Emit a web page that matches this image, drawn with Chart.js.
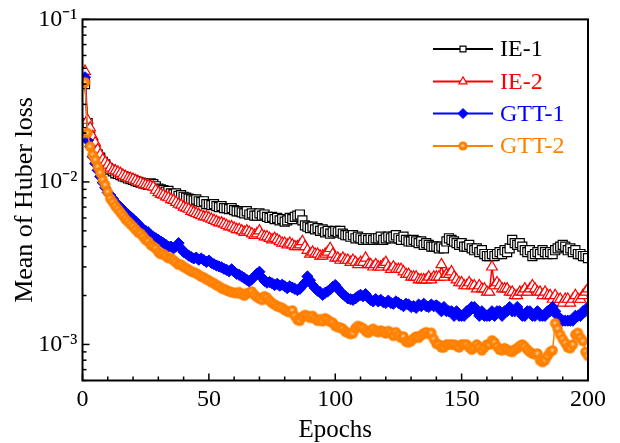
<!DOCTYPE html>
<html><head><meta charset="utf-8">
<script src="https://cdn.jsdelivr.net/npm/chart.js@4.4.1/dist/chart.umd.min.js"></script>
<style>html,body{margin:0;padding:0;background:#fff;}canvas{display:block;}</style>
</head><body>
<canvas id="c" width="620" height="443"></canvas>
<script>
const epochs = Array.from({length: 200}, (_, i) => i + 1);

const ie1 = [
0.0400,0.0230,0.0190,0.0172,0.0158,0.0148,0.0141,0.0133,0.0128,0.0122,
0.0119,0.0116,0.0113,0.0112,0.0110,0.0108,0.0107,0.0105,0.0104,0.0103,
0.0101,0.0100,0.0099,0.0098,0.0097,0.0096,0.0098,0.0097,0.0094,0.0091,
0.0090,0.0089,0.0087,0.0088,0.0085,0.0084,0.0085,0.0082,0.0083,0.0081,
0.0080,0.0079,0.0078,0.0077,0.0078,0.0076,0.0075,0.0076,0.0073,0.0073,
0.0072,0.0073,0.0071,0.0070,0.0071,0.0069,0.0069,0.0068,0.0069,0.0067,
0.0066,0.0066,0.0065,0.0064,0.0066,0.0063,0.0064,0.0062,0.0062,0.0064,
0.0062,0.0063,0.0061,0.0060,0.0061,0.0059,0.0060,0.0058,0.0059,0.0057,
0.0058,0.0060,0.0059,0.0061,0.0062,0.0063,0.0058,0.0054,0.0053,0.0052,
0.0053,0.0051,0.0052,0.0050,0.0051,0.0049,0.0050,0.0048,0.0049,0.0050,
0.0049,0.0050,0.0048,0.0047,0.0047,0.0046,0.0047,0.0045,0.0046,0.0045,
0.0044,0.0045,0.0044,0.0045,0.0044,0.0045,0.0045,0.0046,0.0044,0.0045,
0.0046,0.0045,0.0046,0.0047,0.0045,0.0044,0.0046,0.0044,0.0043,0.0043,
0.0044,0.0043,0.0042,0.0043,0.0041,0.0042,0.0041,0.0040,0.0040,0.0040,
0.0039,0.0040,0.0039,0.0043,0.0045,0.0044,0.0043,0.0042,0.0041,0.0042,
0.0040,0.0040,0.0041,0.0039,0.0038,0.0039,0.0037,0.0038,0.0036,0.0035,
0.0035,0.0036,0.0035,0.0036,0.0037,0.0036,0.0038,0.0037,0.0039,0.0044,
0.0042,0.0041,0.0042,0.0040,0.0038,0.0037,0.0038,0.0035,0.0036,0.0037,
0.0036,0.0038,0.0037,0.0036,0.0037,0.0036,0.0038,0.0039,0.0040,0.0041,
0.0040,0.0038,0.0039,0.0037,0.0038,0.0036,0.0036,0.0035,0.0035,0.0034];

const ie2 = [
0.0480,0.0240,0.0215,0.0190,0.0174,0.0158,0.0147,0.0137,0.0132,0.0127,
0.0122,0.0118,0.0117,0.0115,0.0113,0.0110,0.0108,0.0106,0.0105,0.0104,
0.0102,0.0100,0.0099,0.0097,0.0096,0.0095,0.0094,0.0093,0.0089,0.0086,
0.0084,0.0083,0.0081,0.0080,0.0078,0.0077,0.0075,0.0073,0.0072,0.0070,
0.0069,0.0068,0.0066,0.0065,0.0064,0.0063,0.0062,0.0061,0.0061,0.0060,
0.0059,0.0058,0.0057,0.0056,0.0056,0.0055,0.0054,0.0053,0.0053,0.0052,
0.0051,0.0051,0.0050,0.0049,0.0050,0.0049,0.0048,0.0047,0.0048,0.0050,
0.0047,0.0046,0.0046,0.0045,0.0044,0.0045,0.0044,0.0043,0.0042,0.0042,
0.0041,0.0042,0.0041,0.0040,0.0040,0.0041,0.0043,0.0040,0.0038,0.0036,
0.0037,0.0036,0.0036,0.0035,0.0035,0.0036,0.0037,0.0039,0.0036,0.0034,
0.0034,0.0033,0.0034,0.0033,0.0033,0.0032,0.0033,0.0032,0.0031,0.0032,
0.0032,0.0034,0.0031,0.0031,0.0030,0.0031,0.0030,0.0030,0.0031,0.0032,
0.0030,0.0029,0.0030,0.0029,0.0029,0.0029,0.0028,0.0027,0.0027,0.0026,
0.0026,0.0026,0.0025,0.0025,0.0025,0.0025,0.0026,0.0025,0.0026,0.0026,
0.0026,0.0031,0.0026,0.0027,0.0027,0.0028,0.0026,0.0025,0.0024,0.0024,
0.0023,0.0023,0.0024,0.0023,0.0023,0.0022,0.0023,0.0022,0.0022,0.0021,
0.0021,0.0030,0.0023,0.0024,0.0023,0.0022,0.0022,0.0022,0.0021,0.0021,
0.0020,0.0020,0.0021,0.0021,0.0022,0.0021,0.0022,0.0023,0.0022,0.0021,
0.0021,0.0020,0.0021,0.0020,0.0020,0.0019,0.0020,0.0019,0.0019,0.0018,
0.0019,0.0019,0.0018,0.0019,0.0020,0.0019,0.0019,0.0020,0.0021,0.0022];

const gtt1 = [
0.0440,0.0180,0.0165,0.0143,0.0130,0.0118,0.0108,0.0099,0.0092,0.0086,
0.0083,0.0079,0.0075,0.0072,0.0070,0.0067,0.0065,0.0063,0.0061,0.0059,
0.0057,0.0055,0.0053,0.0051,0.0050,0.0049,0.0047,0.0046,0.0045,0.0044,
0.0043,0.0042,0.0041,0.0040,0.0040,0.0039,0.0040,0.0042,0.0039,0.0037,
0.00362,0.00352,0.00345,0.00338,0.00342,0.00332,0.00338,0.00330,0.00322,0.00328,
0.00318,0.00312,0.00306,0.00302,0.00298,0.00292,0.00288,0.00282,0.00290,0.00280,
0.00272,0.00268,0.00262,0.00256,0.00250,0.00244,0.00252,0.00262,0.00272,0.00280,
0.00258,0.00246,0.00240,0.00242,0.00238,0.00232,0.00236,0.00230,0.00233,0.00228,
0.00222,0.00228,0.00224,0.00220,0.00216,0.00220,0.00230,0.00240,0.00262,0.00248,
0.00232,0.00222,0.00214,0.00210,0.00202,0.00208,0.00212,0.00218,0.00226,0.00232,
0.00222,0.00212,0.00204,0.00198,0.00192,0.00190,0.00188,0.00192,0.00198,0.00202,
0.00198,0.00204,0.00194,0.00188,0.00184,0.00190,0.00184,0.00188,0.00182,0.00180,
0.00186,0.00180,0.00178,0.00184,0.00180,0.00176,0.00172,0.00178,0.00176,0.00170,
0.00172,0.00168,0.00176,0.00172,0.00178,0.00172,0.00170,0.00176,0.00172,0.00174,
0.0017,0.0016,0.0017,0.0016,0.0016,0.0016,0.0015,0.0016,0.0015,0.0015,
0.0015,0.0016,0.0016,0.0017,0.0017,0.0016,0.0015,0.0016,0.0015,0.0015,
0.0015,0.0016,0.0015,0.0016,0.0016,0.0015,0.0016,0.0016,0.0017,0.0016,
0.0016,0.0017,0.0016,0.0015,0.0015,0.0016,0.0016,0.0015,0.0015,0.0016,
0.0015,0.0015,0.0015,0.0016,0.0016,0.0017,0.0016,0.0015,0.0014,0.0014,
0.0014,0.0014,0.0014,0.0014,0.0015,0.0015,0.0015,0.0016,0.0016,0.0017];

const gtt2 = [
0.0410,0.0200,0.0165,0.0147,0.0137,0.0124,0.0114,0.0103,0.0096,0.0087,
0.0079,0.0075,0.0071,0.0068,0.0065,0.0062,0.0059,0.0057,0.0055,0.0053,
0.0051,0.0049,0.0048,0.0046,0.0044,0.0043,0.0041,0.0040,0.0039,0.0037,
0.0036,0.0036,0.0035,0.0034,0.0034,0.0033,0.0032,0.0031,0.0031,0.0030,
0.00295,0.00288,0.00282,0.00278,0.00274,0.00268,0.00262,0.00258,0.00252,0.00248,
0.00242,0.00238,0.00232,0.00228,0.00222,0.00219,0.00216,0.00212,0.00210,0.00208,
0.00207,0.00210,0.00204,0.00200,0.00206,0.00209,0.00212,0.00202,0.00196,0.00192,
0.00188,0.00198,0.00194,0.00186,0.00180,0.00176,0.00172,0.00170,0.00168,0.00163,
0.00160,0.00158,0.00162,0.00150,0.00142,0.00140,0.00148,0.00152,0.00150,0.00146,
0.00150,0.00144,0.00140,0.00143,0.00139,0.00145,0.00142,0.00138,0.00136,0.00130,
0.00128,0.00127,0.00125,0.00120,0.00118,0.00116,0.00117,0.00126,0.00130,0.00128,
0.00126,0.00121,0.00118,0.00122,0.00125,0.00121,0.00119,0.00122,0.00120,0.00117,
0.00121,0.00118,0.00113,0.00119,0.00114,0.00110,0.00112,0.00104,0.00103,0.00105,
0.00109,0.00112,0.00110,0.00114,0.00117,0.00119,0.00116,0.00118,0.00108,0.00101,
0.0010,0.00096,0.00096,0.0010,0.0010,0.0010,0.0010,0.00098,0.00096,0.0010,
0.0010,0.0010,0.00096,0.00093,0.00096,0.0010,0.00096,0.00092,0.00096,0.0010,
0.0010,0.00106,0.00103,0.00097,0.00093,0.00092,0.00095,0.00093,0.00091,0.00090,
0.00093,0.00095,0.00098,0.00100,0.00097,0.00093,0.00090,0.00088,0.00087,0.00088,
0.00080,0.00078,0.00080,0.00085,0.00090,0.00092,0.00135,0.00125,0.00115,0.00108,
0.00102,0.00096,0.00095,0.00100,0.00115,0.00118,0.00110,0.00105,0.00090,0.00085];

const seriesNames = ['IE-1', 'IE-2', 'GTT-1', 'GTT-2'];
const seriesColors = ['#000000', '#ff0000', '#0000ff', '#ff8000'];
const xTickValues = [0, 50, 100, 150, 200];
const yTickValues = [1e-3, 1e-2, 1e-1];
const yTickLabels = ['10\u207B\u00B3', '10\u207B\u00B2', '10\u207B\u00B9'];
const xTitle = 'Epochs';
const yTitle = 'Mean of Huber loss';

const FONT = '"Liberation Serif", "Times New Roman", serif';

function makeBall(r) {
  const s = Math.ceil(r * 2 + 2), c = document.createElement('canvas');
  c.width = s; c.height = s;
  const g = c.getContext('2d');
  const m = s / 2;
  g.beginPath(); g.arc(m, m, r, 0, Math.PI * 2);
  g.fillStyle = '#ff8000'; g.fill();
  const rg = g.createRadialGradient(m - 0.3, m - 0.3, 0, m - 0.3, m - 0.3, r * 0.6);
  rg.addColorStop(0, 'rgba(255,238,215,1)');
  rg.addColorStop(1, 'rgba(255,150,40,0)');
  g.fillStyle = rg;
  g.beginPath(); g.arc(m, m, r, 0, Math.PI * 2); g.fill();
  return c;
}
const ball = makeBall(5.2);

const styles = [
  {pointStyle: 'rect', radius: 6.4, bg: '#ffffff', bw: 1.2},
  {pointStyle: 'triangle', radius: 6.2, bg: '#ffffff', bw: 1.2},
  {pointStyle: 'rectRot', radius: 5.6, bg: '#0000ff', bw: 1},
  {pointStyle: ball, radius: 5.2, bg: '#ff8000', bw: 0}
];
const allData = [ie1, ie2, gtt1, gtt2];

const datasets = allData.map((arr, k) => ({
  label: seriesNames[k],
  data: epochs.map((e, i) => ({x: e, y: arr[i]})),
  borderColor: seriesColors[k],
  backgroundColor: styles[k].bg,
  borderWidth: 1.5,
  pointStyle: styles[k].pointStyle,
  pointRadius: styles[k].radius,
  pointHoverRadius: styles[k].radius,
  pointBorderColor: seriesColors[k],
  pointBackgroundColor: styles[k].bg,
  pointBorderWidth: styles[k].bw,
  tension: 0,
  order: 4 - k
}));

const framePlugin = {
  id: 'frame',
  afterDraw(chart) {
    const {ctx, chartArea: a, scales: {x, y}} = chart;
    ctx.save();
    ctx.strokeStyle = '#000';
    ctx.lineWidth = 1.5;
    for (let v = 0; v <= 200; v += 10) {
      const px = x.getPixelForValue(v);
      const len = (v % 50 === 0) ? 7 : 4;
      ctx.beginPath(); ctx.moveTo(px, a.bottom); ctx.lineTo(px, a.bottom - len); ctx.stroke();
    }
    for (let d = -4; d <= -1; d++) {
      for (let m = 1; m <= 9; m++) {
        const v = m * Math.pow(10, d);
        if (v < y.min * 0.999 || v > y.max * 1.001) continue;
        const py = y.getPixelForValue(v);
        const len = (m === 1) ? 7 : 4;
        ctx.beginPath(); ctx.moveTo(a.left, py); ctx.lineTo(a.left + len, py); ctx.stroke();
      }
    }
    ctx.lineWidth = 2;
    ctx.strokeRect(a.left, a.top, a.right - a.left, a.bottom - a.top);

    const lx0 = 433, lx1 = 493, mx = 463, tx = 500;
    const rows = [49, 81.5, 113.5, 146];
    ctx.font = '24px ' + FONT;
    ctx.textBaseline = 'middle';
    ctx.textAlign = 'left';
    const legendR = [4.2, 4.6, 5, 4.6];
    chart.data.datasets.forEach((ds, k) => {
      const yy = rows[k];
      ctx.strokeStyle = seriesColors[k];
      ctx.lineWidth = 2;
      ctx.beginPath(); ctx.moveTo(lx0, yy); ctx.lineTo(lx1, yy); ctx.stroke();
      ctx.fillStyle = styles[k].bg;
      ctx.lineWidth = styles[k].bw || 1;
      const ps = (k === 3) ? makeBall(legendR[k]) : styles[k].pointStyle;
      Chart.helpers.drawPoint(ctx, {pointStyle: ps, radius: legendR[k], rotation: 0, borderWidth: styles[k].bw}, mx, yy);
      ctx.fillStyle = seriesColors[k];
      ctx.fillText(seriesNames[k], tx, yy + 1);
    });
    ctx.restore();
  }
};

new Chart(document.getElementById('c'), {
  type: 'line',
  data: {datasets},
  plugins: [framePlugin],
  options: {
    responsive: false,
    animation: false,
    devicePixelRatio: 1,
    layout: {padding: {left: 0, top: 19, right: 32, bottom: 0}},
    plugins: {legend: {display: false}, tooltip: {enabled: false}},
    scales: {
      x: {
        type: 'linear', min: 0, max: 200, position: 'bottom',
        afterFit: s => { s.height = 62.5; },
        afterBuildTicks: s => { s.ticks = xTickValues.map(v => ({value: v})); },
        grid: {display: false, drawTicks: false},
        border: {display: false},
        ticks: {font: {family: FONT, size: 24}, color: '#000', padding: 5, maxRotation: 0, autoSkip: false},
        title: {display: true, text: xTitle, font: {family: FONT, size: 25, lineHeight: 1.0}, color: '#000', padding: {top: 0, bottom: 0}}
      },
      y: {
        type: 'logarithmic', min: 6e-4, max: 0.1,
        afterFit: s => { s.width = 82.5; },
        afterBuildTicks: s => { s.ticks = yTickValues.map(v => ({value: v})); },
        grid: {display: false, drawTicks: false},
        border: {display: false},
        ticks: {
          font: {family: FONT, size: 24}, color: '#000', padding: 5, autoSkip: false,
          callback: (v, i) => yTickLabels[i]
        },
        title: {display: true, text: yTitle, font: {family: FONT, size: 26, lineHeight: 1.0}, color: '#000', padding: {top: 12, bottom: 0}}
      }
    }
  }
});
</script>
</body></html>
